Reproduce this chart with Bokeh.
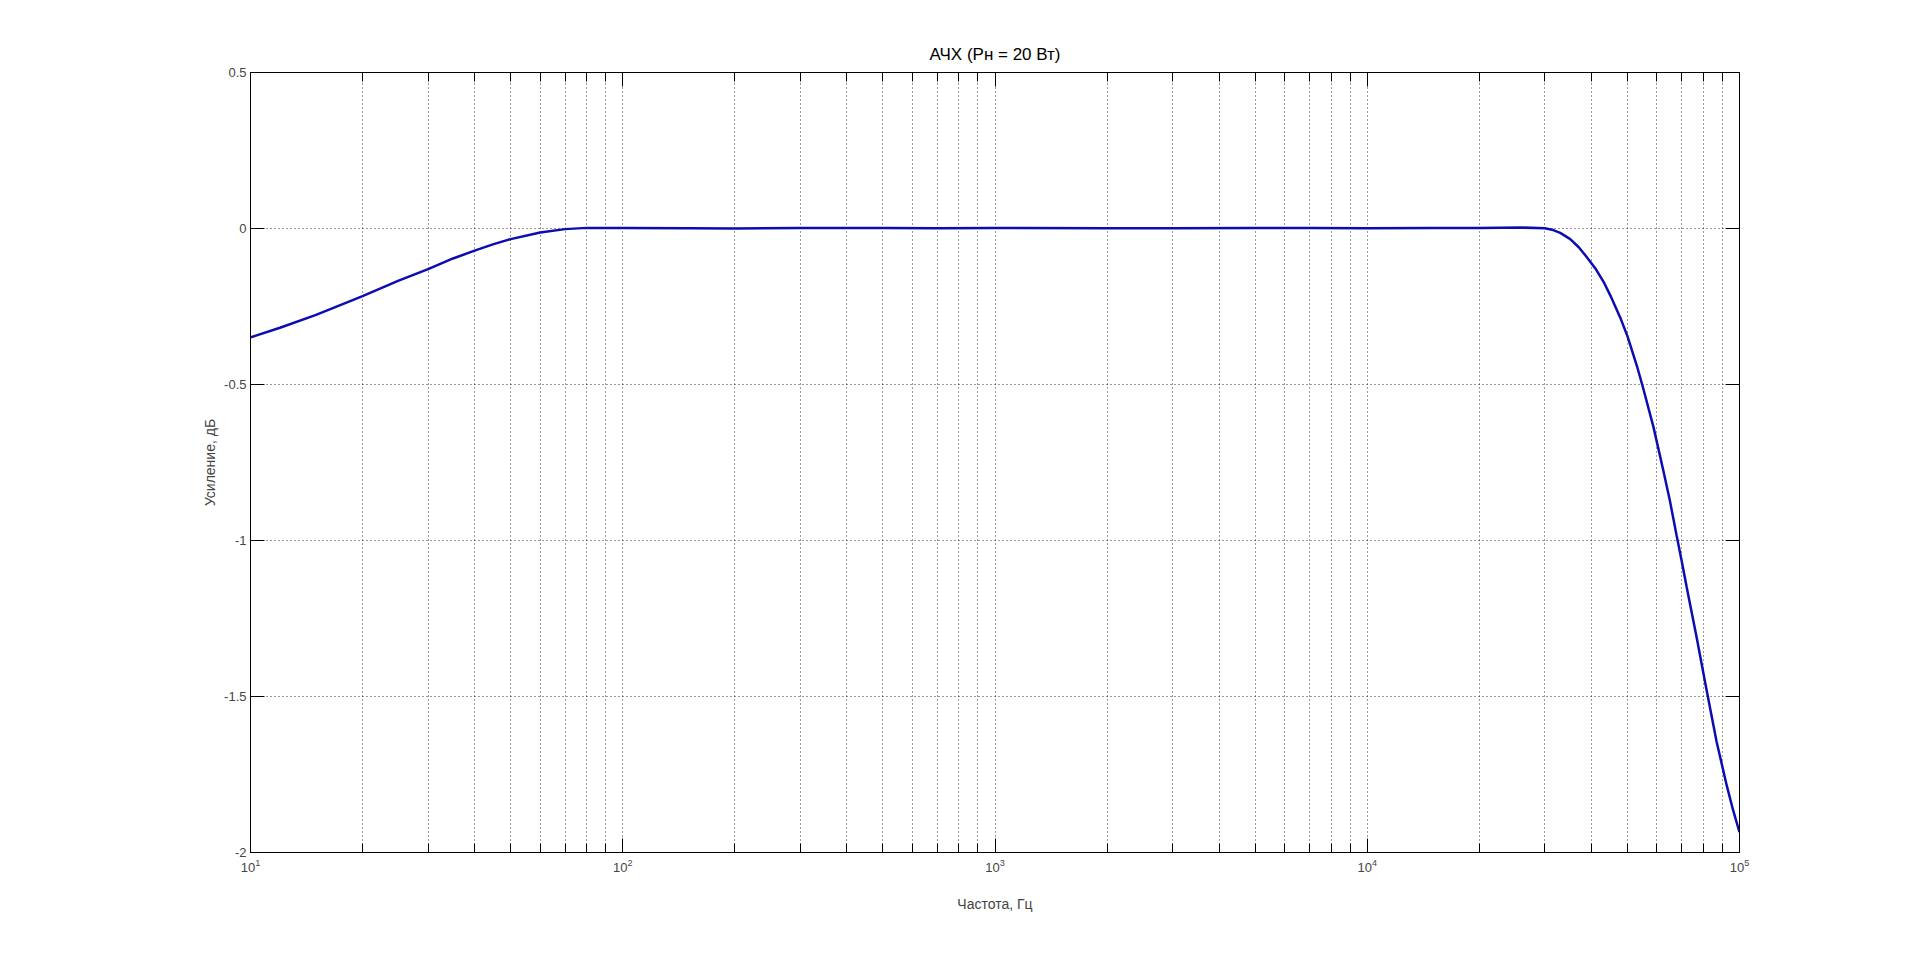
from bokeh.plotting import figure
from bokeh.models import Range1d, FixedTicker, LogAxis, LinearAxis
from bokeh.embed import file_html
from bokeh.resources import INLINE

# ---- data ----
freq = [10, 12, 15, 20, 25, 30, 35, 40, 45, 50, 60, 70, 80, 90, 100, 150, 200,
        300, 500, 700, 1000, 2000, 3000, 5000, 7000, 10000, 15000, 20000, 26000,
        30000, 31600, 33000, 35100, 37000, 38900, 41000, 43100, 45000, 47800,
        50000, 53000, 55000, 58700, 62400, 65000, 67800, 70000, 72100, 76700,
        81600, 86800, 92400, 96000, 100000]
gain = [-0.349, -0.318, -0.277, -0.217, -0.167, -0.130, -0.096, -0.071, -0.050,
        -0.034, -0.013, -0.002, 0.002, 0.002, 0.002, 0.001, 0.0, 0.002, 0.002,
        0.001, 0.002, 0.001, 0.001, 0.002, 0.002, 0.001, 0.002, 0.002, 0.003,
        0.001, -0.005, -0.014, -0.034, -0.060, -0.092, -0.128, -0.170, -0.215,
        -0.285, -0.345, -0.440, -0.508, -0.635, -0.775, -0.872, -0.985, -1.068,
        -1.148, -1.310, -1.480, -1.645, -1.785, -1.862, -1.935]

x_major = [10, 100, 1000, 10000, 100000]
x_minor = [m * d for d in [10, 100, 1000, 10000] for m in range(2, 10)]
y_ticks = [-2, -1.5, -1, -0.5, 0, 0.5]
y_labels = ["-2", "-1.5", "-1", "-0.5", "0", "0.5"]

title_text = "АЧХ (Рн = 20 Вт)"
x_label = "Частота, Гц"
y_label = "Усиление, дБ"

FONT = "Liberation Sans"

p = figure(frame_width=1489, frame_height=780,
           min_border_left=250, min_border_right=166,
           min_border_top=72, min_border_bottom=89,
           x_axis_type="log",
           x_range=Range1d(10, 100000), y_range=Range1d(-2, 0.5),
           output_backend="svg", toolbar_location=None,
           title=title_text)

p.background_fill_color = "white"
p.border_fill_color = "white"
p.outline_line_color = "black"
p.outline_line_width = 1

p.title.align = "center"
p.title.text_font = FONT
p.title.text_font_size = "17px"
p.title.text_font_style = "normal"
p.title.text_color = "black"
p.title.standoff = 18

xt = FixedTicker(ticks=x_major, minor_ticks=x_minor)
yt = FixedTicker(ticks=y_ticks, minor_ticks=[])

xa = p.xaxis[0]
xa.ticker = xt
xa.axis_label = x_label
xa.axis_label_text_font = FONT
xa.axis_label_text_font_size = "14px"
xa.axis_label_text_font_style = "normal"
xa.axis_label_standoff = 21
xa.major_label_text_font = FONT
xa.major_label_text_font_size = "13px"
xa.major_label_standoff = 6
xa.major_tick_in = 14
xa.major_tick_out = 0
xa.minor_tick_in = 9
xa.minor_tick_out = 0
xa.axis_line_color = "black"

ya = p.yaxis[0]
ya.ticker = yt
ya.major_label_overrides = {v: s for v, s in zip(y_ticks, y_labels)}
ya.axis_label = y_label
ya.axis_label_text_font = FONT
ya.axis_label_text_font_size = "14px"
ya.axis_label_text_font_style = "normal"
ya.axis_label_standoff = 3
ya.major_label_text_font = FONT
ya.major_label_text_font_size = "13px"
ya.major_label_standoff = 4
ya.major_tick_in = 14
ya.major_tick_out = 0
ya.minor_tick_line_color = None
ya.axis_line_color = "black"

top = LogAxis(ticker=FixedTicker(ticks=x_major, minor_ticks=x_minor),
              major_label_text_font_size="1px", major_label_text_color=None,
              major_label_standoff=0,
              major_tick_in=14, major_tick_out=0,
              minor_tick_in=9, minor_tick_out=0, axis_line_color="black")
right = LinearAxis(ticker=FixedTicker(ticks=y_ticks, minor_ticks=[]),
                   major_label_text_font_size="1px", major_label_text_color=None,
                   major_label_standoff=0,
                   major_tick_in=14, major_tick_out=0,
                   minor_tick_line_color=None, axis_line_color="black")
p.add_layout(top, "above")
p.add_layout(right, "right")

for g in (p.xgrid[0], p.ygrid[0]):
    g.grid_line_color = "black"
    g.grid_line_alpha = 0.8
    g.grid_line_dash = "1 3"
    g.grid_line_width = 1
p.xgrid[0].ticker = xt
p.ygrid[0].ticker = yt
p.xgrid[0].minor_grid_line_color = "black"
p.xgrid[0].minor_grid_line_alpha = 0.8
p.xgrid[0].minor_grid_line_dash = "1 3"
p.xgrid[0].minor_grid_line_width = 1

p.line(freq, gain, line_color="#0c0cb0", line_width=2.5)

open("out.html", "w").write(file_html(p, INLINE))
